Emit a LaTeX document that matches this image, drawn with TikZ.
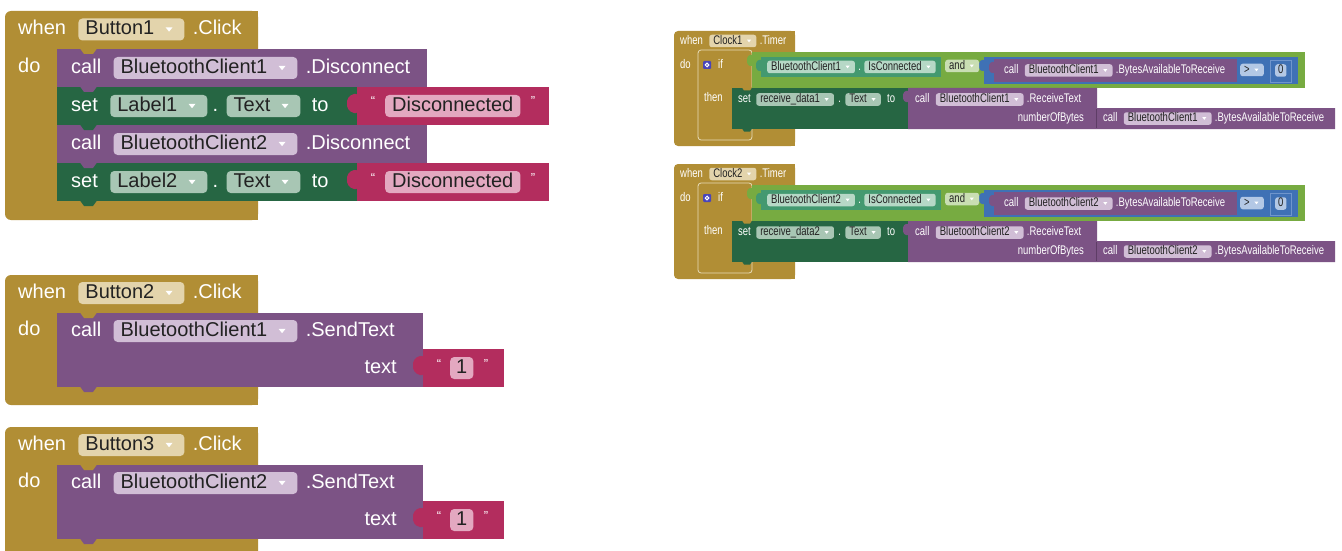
\documentclass[tikz,border=0pt]{standalone}
\usepackage{fontspec}
\setmainfont{Liberation Sans}
\definecolor{gold}{HTML}{B18E35}
\definecolor{goldP}{HTML}{E3D4AC}
\definecolor{purp}{HTML}{7C5385}
\definecolor{purpP}{HTML}{D1BED6}
\definecolor{purpD}{HTML}{5E3D66}
\definecolor{grn}{HTML}{266643}
\definecolor{grnP}{HTML}{A8C6B4}
\definecolor{red1}{HTML}{B32D5E}
\definecolor{redP}{HTML}{E3A8C0}
\definecolor{lgrn}{HTML}{77AB41}
\definecolor{lgrnP}{HTML}{C9DEB3}
\definecolor{tealc}{HTML}{439970}
\definecolor{tealP}{HTML}{B6D8C6}
\definecolor{blu}{HTML}{3F71B5}
\definecolor{bluP}{HTML}{B3C8E5}
\definecolor{bluL}{HTML}{6F95CC}
\definecolor{gearc}{HTML}{4A45B8}
\definecolor{ifl}{HTML}{E8DCB8}
\definecolor{pilltxt}{HTML}{222222}
\newcommand\sqz[1]{\scalebox{0.76}[1]{#1}}
\newcommand\hsp[1]{\hbox to #1{}}
\newcommand\pillL[4]{%
 \node[pl,fill=#2] (#1) at #3 {\hsp{7pt}#4\hsp{30pt}};
 \fill[white] ([xshift=-19pt,yshift=2.2pt]#1.east) -- ++(7,0) -- ++(-3.5,4.4) -- cycle;}
\newcommand\pillS[4]{%
 \node[ps,fill=#2] (#1) at #3 {\hsp{4pt}\sqz{#4}\hsp{14pt}};
 \fill[white] ([xshift=-9.5pt,yshift=1.3pt]#1.east) -- ++(4,0) -- ++(-2,2.6) -- cycle;}
\newcommand\stabL[3]{\fill[#1] (#2+23,#3-0.5) -- (#2+27,#3+5) -- (#2+36,#3+5) -- (#2+40,#3-0.5) -- cycle;}
\newcommand\vtabL[3]{\fill[#1,rounded corners=2pt] (#2+1,#3+7) -- (#2-5,#3+7) -- (#2-10,#3+12) -- (#2-10,#3+21) -- (#2-5,#3+26) -- (#2+1,#3+26) -- cycle;}
\newcommand\stabS[3]{\fill[#1] (#2+10,#3-0.5) -- (#2+12,#3+2.5) -- (#2+18,#3+2.5) -- (#2+20,#3-0.5) -- cycle;}
\newcommand\vtabS[3]{\fill[#1,rounded corners=1pt] (#2+0.5,#3+3) -- (#2-3,#3+3) -- (#2-5,#3+6) -- (#2-5,#3+11) -- (#2-3,#3+14) -- (#2+0.5,#3+14) -- cycle;}
\newcommand\clockblk[2]{%
\begin{scope}[yshift=-#2pt]
 \fill[gold,rounded corners=4pt] (674,31) rectangle (795,146);
 \fill[gold] (690,31) rectangle (795,146);
 \path[fill=gold,draw=ifl,line width=0.8pt,rounded corners=3pt] (698,50) rectangle (752,140);
 \fill[lgrn] (752,52) rectangle (1305,88);
 \vtabS{lgrn}{752}{52}
 \fill[tealc] (761,57) rectangle (941,77);
 \vtabS{tealc}{761}{57}
 \fill[blu] (984,57) rectangle (1298,84);
 \vtabS{blu}{984}{57}
 \fill[purp] (994,59) rectangle (1237,82);
 \vtabS{purp}{994}{59}
 \path[fill=blu,draw=bluL,line width=0.6pt] (1270,60) rectangle (1291,82);
 \fill[grn] (732,88) rectangle (908,129);
 \fill[purp] (908,88) -- (1097,88) -- (1097,108) -- (1335,108) -- (1335,129) -- (908,129) -- cycle;
 \vtabS{purp}{908}{88}
 \draw[purpD,line width=0.6pt] (1096,109) -- (1096,128);
 \stabS{gold}{732}{88}
 \stabS{grn}{732}{129}
 \node[ws] (k#1when) at (680,41) {\sqz{when}};
 \pillS{k#1clk}{goldP}{([xshift=6pt]k#1when.east)}{Clock#1}
 \node[ws] (k#1tmr) at ([xshift=3pt]k#1clk.east) {\sqz{.Timer}};
 \node[ws] (k#1do) at (680,65) {\sqz{do}};
 \fill[gearc,rounded corners=1pt] (703,61) rectangle (711,69);
 \draw[white,line width=1pt] (707,65) circle (1.8);
 \node[ws] (k#1if) at (718,65) {\sqz{if}};
 \node[ws] (k#1then) at (704,98) {\sqz{then}};
 \pillS{k#1gbt}{tealP}{(767,67)}{BluetoothClient#1}
 \node[ws] (k#1gd) at ([xshift=3pt]k#1gbt.east) {\sqz{.}};
 \pillS{k#1isc}{tealP}{([xshift=3pt]k#1gd.east)}{IsConnected}
 \pillS{k#1and}{lgrnP}{(945,66)}{and}
 \node[ws] (k#1c1) at (1004,70.5) {\sqz{call}};
 \pillS{k#1c1bt}{purpP}{([xshift=6pt]k#1c1.east)}{BluetoothClient#1}
 \node[ws] (k#1c1m) at ([xshift=3pt]k#1c1bt.east) {\sqz{.BytesAvailableToReceive}};
 \pillS{k#1gt}{bluP}{(1240,70)}{>}
 \node[ps,fill=bluP] (k#1zero) at (1275,70.5) {\hsp{3pt}\sqz{0}\hsp{3pt}};
 \node[ws] (k#1set) at (738,99.5) {\sqz{set}};
 \pillS{k#1rd}{grnP}{([xshift=5pt]k#1set.east)}{receive\_data#1}
 \node[ws] (k#1sd) at ([xshift=4pt]k#1rd.east) {\sqz{.}};
 \pillS{k#1txt}{grnP}{([xshift=4pt]k#1sd.east)}{Text}
 \node[ws] (k#1to) at ([xshift=6pt]k#1txt.east) {\sqz{to}};
 \node[ws] (k#1c2) at (915,99.5) {\sqz{call}};
 \pillS{k#1c2bt}{purpP}{([xshift=6pt]k#1c2.east)}{BluetoothClient#1}
 \node[ws] (k#1c2m) at ([xshift=3pt]k#1c2bt.east) {\sqz{.ReceiveText}};
 \node[ws,anchor=east] (k#1nob) at (1084,118.5) {\sqz{numberOfBytes}};
 \node[ws] (k#1c3) at (1103,118.5) {\sqz{call}};
 \pillS{k#1c3bt}{purpP}{([xshift=6pt]k#1c3.east)}{BluetoothClient#1}
 \node[ws] (k#1c3m) at ([xshift=3pt]k#1c3bt.east) {\sqz{.BytesAvailableToReceive}};
\end{scope}}
\newcommand\sendblk[3]{%
\begin{scope}[yshift=-#2pt]
 \fill[gold,rounded corners=6pt] (5,275) rectangle (258,405);
 \fill[gold] (20,275) rectangle (258,405);
 \fill[purp] (57,313) rectangle (423,387);
 \fill[red1] (423,349) rectangle (504,387);
 \vtabL{red1}{423}{349}
 \stabL{gold}{57}{313}
 \stabL{purp}{57}{387}
 \node[wl] (s#1when) at (18,293) {when};
 \pillL{s#1btn}{goldP}{([xshift=12pt]s#1when.east)}{Button#1}
 \node[wl] (s#1clk) at ([xshift=8pt]s#1btn.east) {.Click};
 \node[wl] (s#1do) at (18,330) {do};
 \node[wl] (s#1call) at (71,331) {call};
 \pillL{s#1bt}{purpP}{([xshift=12pt]s#1call.east)}{BluetoothClient#3}
 \node[wl] (s#1m) at ([xshift=8pt]s#1bt.east) {.SendText};
 \node[wl,anchor=east] (s#1txt) at (397,368) {text};
 \node[ql] (s#1q1) at (439,368) {“};
 \node[pl,fill=redP] (s#1one) at (450,368) {\hsp{6pt}1\hsp{6pt}};
 \node[ql] (s#1q2) at (486,368) {”};
\end{scope}}
\begin{document}
\begin{tikzpicture}[x=1pt,y=-1pt,
 wl/.style={anchor=west,inner sep=0pt,text=white,font=\fontsize{20}{20}\selectfont,text height=14pt,text depth=3pt},
 pl/.style={anchor=west,inner xsep=0pt,inner ysep=0pt,minimum height=22pt,rounded corners=4pt,text=pilltxt,font=\fontsize{20}{20}\selectfont,text height=14pt,text depth=3pt},
 ws/.style={anchor=west,inner sep=0pt,text=white,font=\fontsize{12.5}{12.5}\selectfont,text height=9pt,text depth=2.5pt},
 ps/.style={anchor=west,inner xsep=0pt,inner ysep=0pt,minimum height=12.5pt,rounded corners=2.5pt,text=pilltxt,font=\fontsize{12.5}{12.5}\selectfont,text height=9pt,text depth=2.5pt},
 ql/.style={anchor=base,inner sep=0pt,text=white,font=\fontsize{13}{13}\selectfont}]
\useasboundingbox (0,0) rectangle (1342,551);
\clip (0,0) rectangle (1342,551);
\fill[white] (0,0) rectangle (1342,551);
% ---- Button1 block
\fill[gold,rounded corners=6pt] (5,11) rectangle (258,220);
\fill[gold] (20,11) rectangle (258,220);
\fill[purp] (57,49) rectangle (427,87);
\fill[grn] (57,87) rectangle (358,125);
\fill[red1] (357,87) rectangle (549,125);
\vtabL{red1}{357}{87}
\fill[purp] (57,125) rectangle (427,163);
\fill[grn] (57,163) rectangle (358,201);
\fill[red1] (357,163) rectangle (549,201);
\vtabL{red1}{357}{163}
\stabL{gold}{57}{49}
\stabL{purp}{57}{87}
\stabL{grn}{57}{125}
\stabL{purp}{57}{163}
\stabL{grn}{57}{201}
\node[wl] (b1when) at (18,29.5) {when};
\pillL{b1btn}{goldP}{([xshift=12pt]b1when.east)}{Button1}
\node[wl] (b1clk) at ([xshift=8pt]b1btn.east) {.Click};
\node[wl] (b1do) at (18,67) {do};
\node[wl] (b1c1) at (71,68) {call};
\pillL{b1c1bt}{purpP}{([xshift=12pt]b1c1.east)}{BluetoothClient1}
\node[wl] (b1c1m) at ([xshift=8pt]b1c1bt.east) {.Disconnect};
\node[wl] (b1s1) at (71,106) {set};
\pillL{b1s1l}{grnP}{([xshift=12pt]b1s1.east)}{Label1}
\node[wl] (b1s1d) at ([xshift=5pt]b1s1l.east) {.};
\pillL{b1s1t}{grnP}{([xshift=8pt]b1s1d.east)}{Text}
\node[wl] (b1s1to) at ([xshift=11pt]b1s1t.east) {to};
\node[ql] (b1q1) at (373,106) {“};
\node[pl,fill=redP] (b1s1v) at (385,106) {\hsp{7pt}Disconnected\hsp{7pt}};
\node[ql] (b1q2) at (533,106) {”};
\node[wl] (b1c2) at (71,144) {call};
\pillL{b1c2bt}{purpP}{([xshift=12pt]b1c2.east)}{BluetoothClient2}
\node[wl] (b1c2m) at ([xshift=8pt]b1c2bt.east) {.Disconnect};
\node[wl] (b1s2) at (71,182) {set};
\pillL{b1s2l}{grnP}{([xshift=12pt]b1s2.east)}{Label2}
\node[wl] (b1s2d) at ([xshift=5pt]b1s2l.east) {.};
\pillL{b1s2t}{grnP}{([xshift=8pt]b1s2d.east)}{Text}
\node[wl] (b1s2to) at ([xshift=11pt]b1s2t.east) {to};
\node[ql] (b1q3) at (373,182) {“};
\node[pl,fill=redP] (b1s2v) at (385,182) {\hsp{7pt}Disconnected\hsp{7pt}};
\node[ql] (b1q4) at (533,182) {”};
% ---- Button2 / Button3 blocks
\sendblk{2}{0}{1}
\sendblk{3}{152}{2}
% ---- Clock blocks
\clockblk{1}{0}
\clockblk{2}{133}
\end{tikzpicture}
\end{document}
